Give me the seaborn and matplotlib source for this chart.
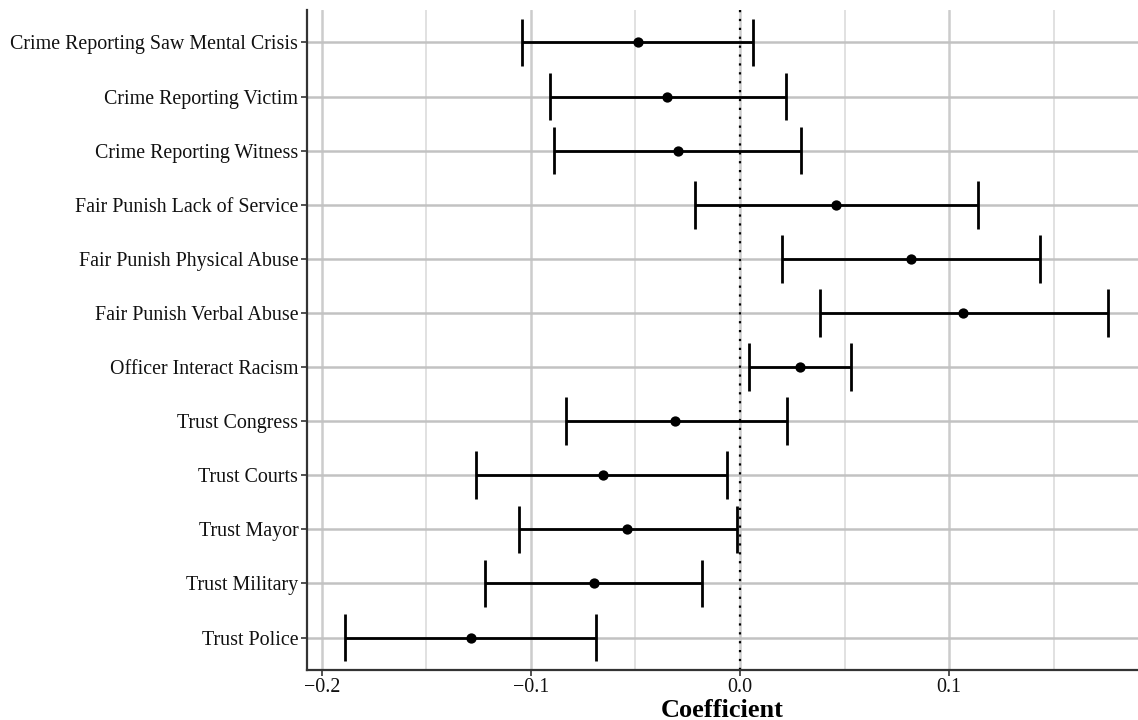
import numpy as np
import pandas as pd
import matplotlib
matplotlib.use("Agg")
import matplotlib.pyplot as plt
import seaborn as sns

categories = [
    "Crime Reporting Saw Mental Crisis",
    "Crime Reporting Victim",
    "Crime Reporting Witness",
    "Fair Punish Lack of Service",
    "Fair Punish Physical Abuse",
    "Fair Punish Verbal Abuse",
    "Officer Interact Racism",
    "Trust Congress",
    "Trust Courts",
    "Trust Mayor",
    "Trust Military",
    "Trust Police",
]
coef = [-0.0490, -0.0348, -0.0298, 0.0458, 0.0818, 0.1069, 0.0289, -0.0311, -0.0657, -0.0539, -0.0699, -0.1287]
lower = [-0.1042, -0.0909, -0.0890, -0.0215, 0.0203, 0.0383, 0.0043, -0.0833, -0.1263, -0.1059, -0.1222, -0.1890]
upper = [0.0062, 0.0220, 0.0292, 0.1140, 0.1437, 0.1759, 0.0530, 0.0223, -0.0064, -0.0013, -0.0182, -0.0691]
x_ticks = [-0.2, -0.1, 0.0, 0.1]
x_minor = [-0.15, -0.05, 0.05, 0.15]

df = pd.DataFrame({"term": categories, "coef": coef, "lo": lower, "hi": upper})
df["pos"] = np.arange(len(df))

sns.set_theme(style="white")
plt.rcParams["font.family"] = ["Liberation Serif", "DejaVu Serif"]

fig = plt.figure(figsize=(11.38, 7.2), dpi=100)
ax = fig.add_axes([0.2695, 0.0694, 0.7305, 0.9167])

# grid
for v in x_minor:
    ax.axvline(v, color="#dedede", lw=1.3, zorder=0)
for v in x_ticks:
    ax.axvline(v, color="#cccccc", lw=1.8, zorder=0)
for p in df["pos"]:
    ax.axhline(p, color="#c2c2c2", lw=1.8, zorder=0)

# reference line
ax.axvline(0, color="black", lw=1.6, ls=(0, (1, 3)), zorder=1)

# intervals
ax.hlines(df["pos"], df["lo"], df["hi"], color="black", lw=2.0, zorder=2)
ax.vlines(df["lo"], df["pos"] - 0.44, df["pos"] + 0.44, color="black", lw=2.0, zorder=2)
ax.vlines(df["hi"], df["pos"] - 0.44, df["pos"] + 0.44, color="black", lw=2.0, zorder=2)

sns.scatterplot(data=df, x="coef", y="pos", color="black", s=55, edgecolor="black",
                linewidth=0, zorder=3, ax=ax, legend=False)

ax.set_xlim(-0.2073, 0.1904)
ax.set_ylim(len(df) - 1 + 0.6, -0.6)
ax.set_xticks(x_ticks)
ax.set_xticklabels(["\u22120.2", "\u22120.1", "0.0", "0.1"])
ax.set_yticks(df["pos"])
ax.set_yticklabels(df["term"])
ax.tick_params(axis="both", labelsize=14.4, colors="#333333", labelcolor="#111111",
               length=4, width=1.2, pad=2, direction="out")
ax.tick_params(axis="both", which="both", bottom=True, left=True)
ax.set_ylabel("")
ax.set_xlabel("Coefficient", fontsize=19, fontweight="bold", color="black", labelpad=1)

for s in ["top", "right"]:
    ax.spines[s].set_visible(False)
for s in ["left", "bottom"]:
    ax.spines[s].set_color("#333333")
    ax.spines[s].set_linewidth(1.6)
ax.grid(False)

fig.savefig("out.png", dpi=100)
